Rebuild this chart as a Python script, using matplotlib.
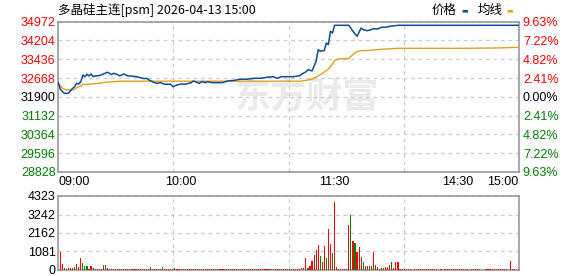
import matplotlib.pyplot as plt

plt.rcParams['font.family'] = ['Liberation Sans', 'Noto Sans CJK SC', 'DejaVu Sans']

# header / axis info
title = '多晶硅主连[psm] 2026-04-13 15:00'
pre_close = 31900
price_ticks = [28828, 29596, 30364, 31132, 31900, 32668, 33436, 34204, 34972]
vol_ticks = [0, 1081, 2162, 3242, 4323]
time_labels = ['09:00', '10:00', '11:30', '14:30', '15:00']
time_pos = [0, 60, 135, 195, 225]  # trading minutes since open (225 in the day)
legend_names = ['价格', '均线']

# price line (minute, price)
price_min = [0, 1, 2, 3, 5, 6, 7, 8, 9, 10, 11, 12, 13, 14, 15, 16, 17, 18, 19, 21,
             22, 24, 25, 26, 27, 29, 30, 32, 34, 35, 38, 40, 42, 43, 45, 47, 48, 50, 52, 55,
             56, 58, 60, 62, 65, 66, 68, 69, 70, 72, 73, 75, 77, 80, 82, 83, 85, 87, 89, 92,
             96, 99, 102, 105, 107, 109, 112, 115, 118, 119, 121, 122, 124, 126, 127, 128, 130, 131, 132, 133,
             134, 135, 142, 144, 146, 148, 149, 151, 153, 154, 156, 158, 160, 162, 166, 225]
price = [32480, 32210, 32115, 32045, 32045, 32155, 32250, 32315, 32455, 32425, 32520, 32795, 32725, 32825, 32755, 32835, 32725, 32755, 32755, 32795,
         32835, 32905, 32865, 32810, 32865, 32810, 32755, 32835, 32755, 32755, 32725, 32685, 32645, 32660, 32560, 32480, 32455, 32480, 32415, 32415,
         32315, 32385, 32425, 32415, 32480, 32550, 32480, 32455, 32520, 32480, 32520, 32480, 32480, 32480, 32520, 32560, 32560, 32590, 32620, 32620,
         32660, 32660, 32700, 32725, 32660, 32725, 32725, 32725, 32765, 32835, 32920, 33010, 32960, 33355, 33830, 33765, 33790, 34105, 34035, 34580,
         34510, 34825, 34825, 34580, 34375, 34715, 34645, 34605, 34645, 34690, 34675, 34745, 34745, 34785, 34825, 34825]

# average price line (minute, price)
avg_min = [0, 2, 4, 7, 8, 9, 11, 12, 16, 20, 23, 27, 31, 118, 121, 124, 127, 129, 132, 134,
           135, 137, 142, 144, 146, 148, 152, 158, 166, 200, 215, 225]
avg_price = [32455, 32250, 32180, 32180, 32210, 32275, 32345, 32400, 32425, 32455, 32495, 32520, 32540, 32540, 32570, 32630, 32755, 32855, 33040, 33245,
             33390, 33450, 33470, 33635, 33755, 33785, 33800, 33845, 33885, 33885, 33900, 33925]

# volume per minute, minutes 1..225
volume = [1070, 350, 117, 80, 117, 117, 117, 156, 350, 195,
          700, 390, 234, 234, 78, 234, 117, 58, 58, 58,
          58, 292, 292, 97, 55, 50, 60, 50, 55, 50,
          50, 55, 50, 60, 50, 50, 55, 50, 50, 50,
          55, 50, 50, 60, 175, 50, 50, 55, 50, 50,
          175, 50, 50, 50, 55, 50, 117, 50, 50, 50,
          50, 55, 50, 50, 50, 60, 50, 50, 55, 50,
          50, 50, 55, 50, 50, 50, 50, 55, 50, 50,
          55, 50, 50, 50, 55, 50, 50, 50, 50, 55,
          50, 50, 50, 55, 50, 50, 50, 50, 55, 50,
          50, 50, 55, 50, 50, 50, 50, 55, 50, 50,
          55, 50, 50, 50, 55, 50, 50, 50, 120, 120,
          700, 120, 234, 527, 877, 1170, 1462, 819, 468, 1404,
          702, 2398, 1521, 994, 3978, 175, 58, 55, 55, 55,
          55, 2632, 3217, 1696, 1579, 1053, 1345, 760, 468, 234,
          234, 234, 234, 1053, 292, 175, 58, 117, 117, 175,
          175, 292, 468, 117, 468, 468, 58, 58, 55, 55,
          55, 55, 0, 55, 55, 55, 55, 55, 55, 55,
          55, 55, 55, 55, 55, 0, 55, 0, 55, 55,
          55, 55, 55, 55, 55, 55, 55, 55, 55, 55,
          0, 55, 55, 55, 55, 55, 0, 0, 55, 55,
          55, 55, 55, 55, 55, 55, 55, 55, 55, 0,
          527, 55, 55, 0, 55]
# minutes with a falling (green) bar
vol_down = [3, 8, 12, 13, 14, 17, 23, 27, 33, 38, 45, 51, 57, 63, 70, 78, 86, 95, 104, 110,
            113, 116, 122, 128, 131, 134, 143, 145, 149, 150, 152, 155, 159, 163]

RED = '#ff0000'
GREEN = '#008000'
BLUE = '#0d4c9e'
ORANGE = '#e0a21c'
BORDER = '#999999'
GRID = '#cccccc'

W, H = 578, 276
fig = plt.figure(figsize=(W / 100, H / 100), dpi=100)
ax = fig.add_axes([58.3 / W, 1 - 172 / H, 460.4 / W, 150.3 / H])
axv = fig.add_axes([58.3 / W, 1 - 270 / H, 460.4 / W, 74 / H])

for a in (ax, axv):
    for s in a.spines.values():
        s.set_color(BORDER)
        s.set_linewidth(1.2)
    a.set_xlim(0, 225)
    a.set_xticks([225 * q / 4 for q in (1, 2, 3)], minor=True)
    a.grid(True, which='minor', axis='x', color=GRID, linestyle=(0, (3, 3)), linewidth=0.9)
    a.grid(True, which='major', axis='y', color=GRID, linestyle=(0, (3, 3)), linewidth=0.9)
    a.tick_params(which='both', length=0)
    a.set_axisbelow(True)

# watermark
ax.text(0.54, 0.5, '东方财富', transform=ax.transAxes, ha='center', va='center',
        fontsize=26, fontweight='bold', color='#eaeaea', family='Noto Sans CJK SC', zorder=0)

# price chart
ax.plot(avg_min, avg_price, color=ORANGE, linewidth=1.0, zorder=3)
ax.plot(price_min, price, color=BLUE, linewidth=1.1, zorder=4)
ax.set_ylim(price_ticks[0], price_ticks[-1])
ax.set_yticks(price_ticks)
ax.set_yticklabels([str(v) for v in price_ticks], fontsize=9)
for lab, v in zip(ax.get_yticklabels(), price_ticks):
    lab.set_color(RED if v > pre_close else (GREEN if v < pre_close else 'black'))
ax.tick_params(axis='y', pad=2)

ax.set_xticks(time_pos)
ax.set_xticklabels(time_labels, fontsize=9)
ax.tick_params(axis='x', pad=3)
xl = ax.get_xticklabels()
xl[0].set_ha('left')
xl[-1].set_ha('right')

axr = ax.twinx()
axr.set_ylim(ax.get_ylim())
axr.set_yticks(price_ticks)
axr.set_yticklabels(['%.2f%%' % (abs(v - pre_close) / pre_close * 100) for v in price_ticks], fontsize=9)
for lab, v in zip(axr.get_yticklabels(), price_ticks):
    lab.set_color(RED if v > pre_close else (GREEN if v < pre_close else 'black'))
axr.tick_params(length=0, pad=3)
for s in axr.spines.values():
    s.set_visible(False)

# volume chart
vol_x = list(range(1, len(volume) + 1))
vol_col = [GREEN if m in vol_down else RED for m in vol_x]
axv.bar(vol_x, volume, width=0.55, color=vol_col, linewidth=0, zorder=3)
axv.set_ylim(vol_ticks[0], vol_ticks[-1])
axv.set_yticks(vol_ticks)
axv.set_yticklabels([str(v) for v in vol_ticks], fontsize=9)
axv.tick_params(axis='y', pad=2)
axv.set_xticks([])

# header: title and a small legend (name followed by a coloured key)
fig.text(58 / W, 1 - 10 / H, title, fontsize=9, va='center', ha='left', family=['Noto Sans CJK SC', 'DejaVu Sans'])
ty = 1 - 10.5 / H
for name, col, tx, kx in zip(legend_names, [BLUE, ORANGE], [432, 478], [461, 506]):
    fig.text(tx / W, ty, name, fontsize=9, va='center', ha='left', family='Noto Sans CJK SC')
    fig.text(kx / W, ty, '\u25ac', fontsize=5, va='center', ha='left', color=col, family='DejaVu Sans')

fig.savefig('out.png', dpi=100)
